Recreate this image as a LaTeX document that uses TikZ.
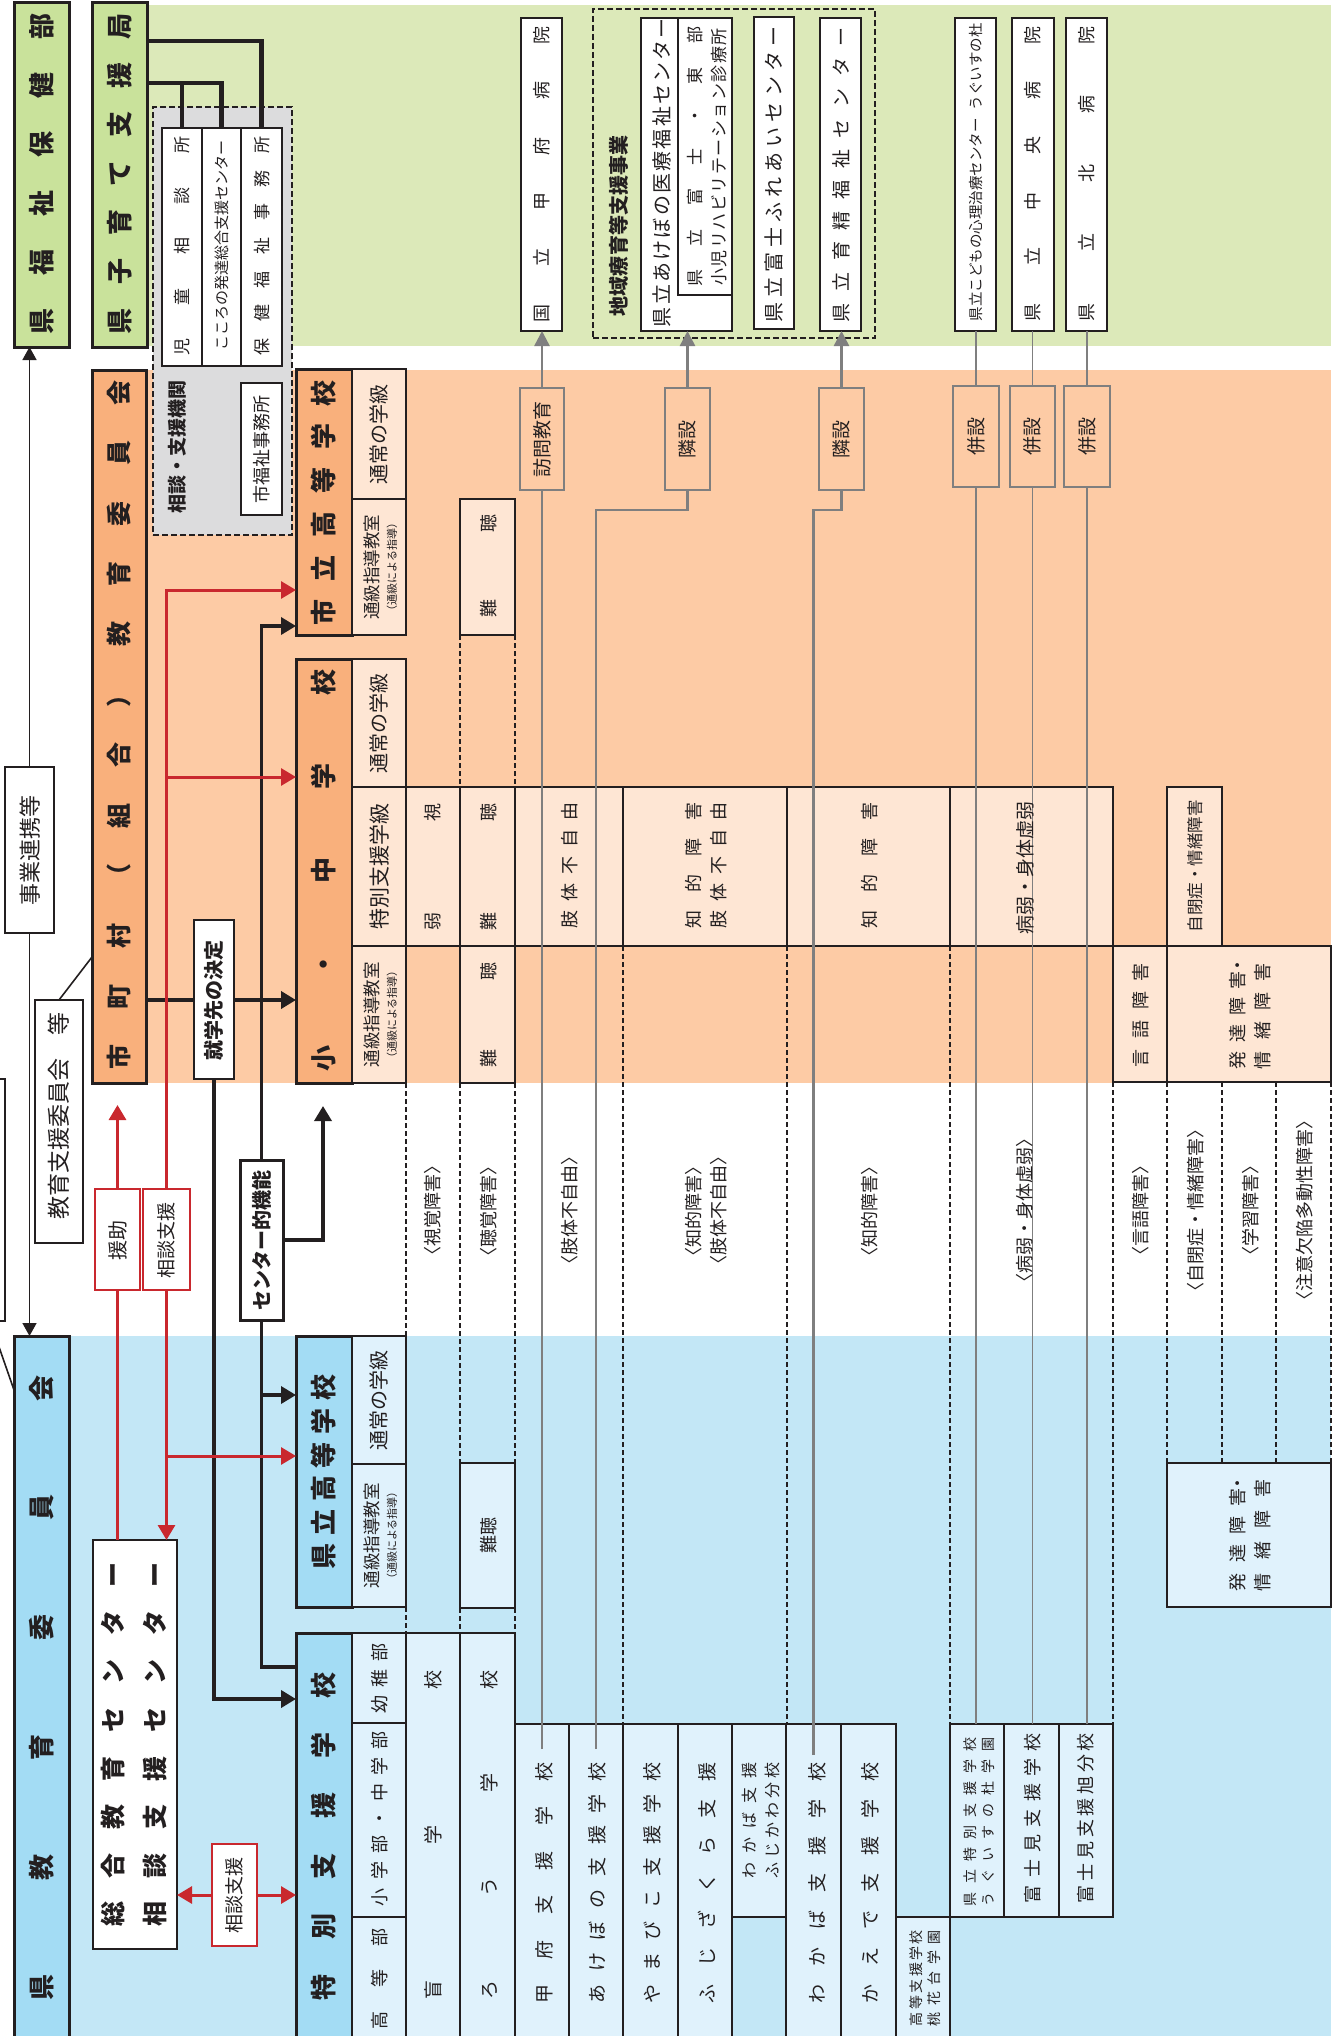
\documentclass[tikz,border=0pt]{standalone}
\usepackage{fontspec}
\setmainfont{Noto Sans CJK JP}
\usetikzlibrary{arrows.meta}
\definecolor{dk}{HTML}{231F20}
\definecolor{gbg}{HTML}{DCE9B9}
\definecolor{gbox}{HTML}{C9E29B}
\definecolor{obg}{HTML}{FDCBA5}
\definecolor{obox}{HTML}{F9B07C}
\definecolor{ocell}{HTML}{FEE6D4}
\definecolor{bbg}{HTML}{C3E7F6}
\definecolor{bbox}{HTML}{A3DCF4}
\definecolor{bcell}{HTML}{E0F2FC}
\definecolor{grp}{HTML}{DCDCDD}
\definecolor{rd}{HTML}{C9282E}
\definecolor{gl}{HTML}{7F7F7F}
\makeatletter
\def\spr@R{\relax}
\newcommand\spr[2]{\hbox to #1pt{\spr@a#2\relax}}
\def\spr@a#1{\def\spr@t{#1}\ifx\spr@t\spr@R\else#1\expandafter\spr@b\fi}
\def\spr@b#1{\def\spr@t{#1}\ifx\spr@t\spr@R\else\hfill#1\expandafter\spr@b\fi}
\makeatother
\newcommand\fs[1]{\fontsize{#1}{#1}\selectfont}
\newcommand\bx[6]{\node[#2,minimum width={(#5-#3)*1pt},minimum height={(#6-#4)*1pt},anchor=north west] (#1) at (#3,#4) {};}
\tikzset{
 bs/.style={inner sep=0pt, outer sep=0pt, rectangle},
 mainbox/.style={bs, draw=dk, line width=3pt},
 gbx/.style={mainbox, fill=gbox},
 obx/.style={mainbox, fill=obox},
 bbx/.style={mainbox, fill=bbox},
 ocl/.style={bs, draw=dk, line width=2pt, fill=ocell},
 bcl/.style={bs, draw=dk, line width=2pt, fill=bcell},
 wbx/.style={bs, draw=dk, line width=2pt, fill=white},
 wbx3/.style={bs, draw=dk, line width=3pt, fill=white},
 hbx/.style={bs, draw=dk, line width=2.5pt, fill=white},
 midbx/.style={bs, draw=gl, line width=2.5pt, fill=obg},
 rbx/.style={bs, draw=rd, line width=2pt, fill=white},
 grpbx/.style={bs, draw=dk, line width=2pt, dash pattern=on 6pt off 3pt, fill=grp},
 dshbx/.style={bs, draw=dk, line width=2.5pt, dash pattern=on 6pt off 3pt},
 tx/.style={rotate=90, inner sep=0pt, outer sep=0pt, text=dk, align=center},
 dsh/.style={draw=dk, line width=2pt, dash pattern=on 5pt off 3pt},
 blk/.style={draw=dk, line width=4.5pt},
 medln/.style={draw=dk, line width=3.5pt},
 arrowhd/.style={-{Triangle[length=15pt,width=17pt]}},
 thinarr/.style={-{Triangle[length=13pt,width=14pt]}},
 garr/.style={-{Triangle[length=15pt,width=15pt]}},
 rline/.style={draw=rd, line width=3pt},
 gline/.style={draw=gl, line width=2.5pt},
 gthin/.style={draw=gl, line width=1.3pt},
 thinln/.style={draw=dk, line width=1.6pt},
}
\begin{document}
\begin{tikzpicture}[x=1pt,y=-1pt]
\useasboundingbox (0,0) rectangle (1340,2036);
\clip (0,0) rectangle (1340,2036);
% backgrounds
\fill[gbg] (147,5) rectangle (1331,346);
\fill[obg] (147,370) rectangle (1331,1083);
\fill[bbg] (69,1336) rectangle (1331,2040);
% main boxes
\bx{fukushi}{gbx}{14}{3}{69}{347}
\bx{kosodate}{gbx}{92}{3}{147}{347}
\bx{shichoson}{obx}{92}{370}{146}{1083}
\bx{kenkyo}{bbx}{14}{1336}{69}{2045}
\bx{shiritsu}{obx}{296}{369}{352}{635}
\bx{shochu}{obx}{296}{659}{352}{1083}
\bx{kenko}{bbx}{296}{1336}{352}{1607}
\bx{tokubetsu}{bbx}{296}{1633}{352}{2045}
% consultation group
\bx{sodangrp}{grpbx}{153}{107}{292}{535}
\bx{jido}{wbx}{162}{128}{202}{366}
\bx{kokoro}{wbx}{202}{128}{241}{366}
\bx{hoken}{wbx}{241}{128}{282}{366}
\bx{shifuku}{wbx}{241}{383}{282}{515}
% hospitals
\bx{kofuhosp}{hbx}{521}{18}{562}{331}
\bx{chiikigrp}{dshbx}{593}{9}{875}{338}
\bx{akeb}{hbx}{641}{18}{732}{331}
\bx{akebin}{hbx}{678}{18}{732}{295}
\bx{fureai}{hbx}{754}{17}{794}{329}
\bx{ikusei}{hbx}{820}{18}{861}{331}
\bx{kodomo}{hbx}{955}{18}{996}{331}
\bx{chuo}{hbx}{1012}{18}{1054}{331}
\bx{kita}{hbx}{1066}{18}{1107}{331}
% intermediate boxes
\bx{homon}{midbx}{520}{388}{564}{490}
\bx{rin1}{midbx}{665}{388}{710}{490}
\bx{rin2}{midbx}{819}{388}{864}{490}
\bx{hei1}{midbx}{953}{386}{999}{487}
\bx{hei2}{midbx}{1010}{386}{1055}{487}
\bx{hei3}{midbx}{1064}{386}{1110}{487}
% orange cells
\bx{s1}{ocl}{352}{369}{406}{499}
\bx{s2}{ocl}{352}{499}{406}{635}
\bx{s3}{ocl}{460}{499}{515}{635}
\bx{c1}{ocl}{352}{659}{406}{787}
\bx{c2}{ocl}{352}{787}{406}{946}
\bx{c3}{ocl}{352}{946}{406}{1083}
\bx{jak}{ocl}{406}{787}{460}{946}
\bx{nan2}{ocl}{460}{787}{515}{946}
\bx{shi}{ocl}{515}{787}{623}{946}
\bx{chs}{ocl}{623}{787}{787}{946}
\bx{chi}{ocl}{787}{787}{950}{946}
\bx{byo}{ocl}{950}{787}{1113}{946}
\bx{jihei}{ocl}{1167}{787}{1222}{946}
\bx{nan3}{ocl}{460}{946}{515}{1083}
\bx{gengo}{ocl}{1113}{946}{1167}{1082}
\bx{hattatsu}{ocl}{1167}{946}{1331}{1082}
% blue cells
\bx{k1}{bcl}{352}{1336}{406}{1464}
\bx{k2}{bcl}{352}{1464}{406}{1607}
\bx{nan4}{bcl}{460}{1463}{515}{1608}
\bx{hat2}{bcl}{1167}{1463}{1331}{1607}
\bx{yochi}{bcl}{352}{1633}{406}{1723}
\bx{shochub}{bcl}{352}{1723}{406}{1917}
\bx{kotobu}{bcl}{352}{1917}{406}{2045}
\bx{mou}{bcl}{406}{1633}{460}{2045}
\bx{rou}{bcl}{460}{1633}{515}{2045}
\bx{kofusch}{bcl}{515}{1724}{569}{2045}
\bx{akebosch}{bcl}{569}{1724}{623}{2045}
\bx{yamasch}{bcl}{623}{1724}{678}{2045}
\bx{sakurasch}{bcl}{678}{1724}{732}{2045}
\bx{fujikawa}{bcl}{732}{1724}{786}{1917}
\bx{wakasch}{bcl}{786}{1724}{841}{2045}
\bx{kaedesch}{bcl}{841}{1724}{896}{2045}
\bx{momo}{bcl}{896}{1917}{950}{2045}
\bx{ugusch}{bcl}{950}{1724}{1004}{1917}
\bx{fujimisch}{bcl}{1004}{1724}{1059}{1917}
\bx{asahisch}{bcl}{1059}{1724}{1113}{1917}
% other boxes
\bx{renkei}{wbx}{5}{767}{54}{933}
\bx{shienkai}{wbx}{35}{1000}{83}{1243}
\node[wbx, minimum width=30pt, minimum height=242pt, anchor=north west] (offbox) at (-25,1079) {};
\bx{shugaku}{wbx}{194}{920}{234}{1079}
\bx{cfunc}{wbx3}{240}{1160}{283}{1320}
\bx{enjo}{rbx}{95}{1189}{140}{1290}
\bx{sodan}{rbx}{143}{1189}{190}{1290}
\bx{sogo}{hbx}{93}{1540}{177}{1949}
\bx{sodan2}{rbx}{212}{1844}{257}{1946}
% dashed grid lines
\draw[dsh] (460,635)--(460,787); \draw[dsh] (515,635)--(515,787);
\draw[dsh] (460,1083)--(460,1463); \draw[dsh] (515,1083)--(515,1463);
\draw[dsh] (406,1083)--(406,1336);
\draw[dsh] (406,1607)--(406,1633); \draw[dsh] (460,1608)--(460,1633); \draw[dsh] (515,1608)--(515,1633);
\draw[dsh] (623,946)--(623,1724); \draw[dsh] (787,946)--(787,1724);
\draw[dsh] (950,946)--(950,1724); \draw[dsh] (1113,1082)--(1113,1724);
\draw[dsh] (1167,1082)--(1167,1463); \draw[dsh] (1222,1082)--(1222,1463);
\draw[dsh] (1276,1082)--(1276,1463); \draw[dsh] (1331,1082)--(1331,1463);
% coordinates
\coordinate (yk1) at (0,83); \coordinate (yk2) at (0,41);
\coordinate (yd) at (0,957); \coordinate (yd2) at (0,1390);
\coordinate (ys) at (0,1000); \coordinate (y1699) at (0,1699);
\coordinate (y626) at (0,626); \coordinate (y1395) at (0,1395); \coordinate (y1667) at (0,1667);
\coordinate (c323) at (323,1106);
\coordinate (y1105) at (0,1105); \coordinate (y590) at (0,590); \coordinate (y777) at (0,777);
\coordinate (y1456) at (0,1456); \coordinate (y510) at (0,510);
% black connectors
\draw[blk] (kosodate.east |- yk2) -| (hoken.north);
\draw[blk] (kosodate.east |- yk1) -| (kokoro.north);
\draw[blk] (jido.north) -- (jido.north |- yk1);
\draw[thinln, thinarr] (renkei.north) -- (renkei.north |- fukushi.south);
\draw[thinln, thinarr] (renkei.south) -- (renkei.south |- kenkyo.north);
\draw[thinln] (shienkai.north) -- (shichoson.west |- yd);
\draw[thinln] (offbox.south) -- (kenkyo.west |- yd2);
\draw[blk] (shichoson.east |- ys) -- (shugaku.west |- ys);
\draw[blk, arrowhd] (shugaku.east |- ys) -- (shochu.west |- ys);
\draw[blk, arrowhd] (shugaku.south) |- (tokubetsu.west |- y1699);
\draw[medln, arrowhd] (cfunc.north) |- (shiritsu.west |- y626);
\draw[medln] (cfunc.south) |- (tokubetsu.west |- y1667);
\draw[medln, arrowhd] (cfunc.south |- y1395) -- (kenko.west |- y1395);
\draw[medln, arrowhd] (cfunc.east) -| (c323);
% red connectors
\draw[rline, arrowhd] (enjo.north) -- (enjo.north |- y1105);
\draw[rline] (enjo.south) -- (enjo.south |- sogo.north);
\draw[rline, arrowhd] (sodan.north) |- (shiritsu.west |- y590);
\draw[rline, arrowhd] (sodan.north |- y777) -- (shochu.west |- y777);
\draw[rline, arrowhd] (sodan.south) -- (sodan.south |- sogo.north);
\draw[rline, arrowhd] (sodan.south |- y1456) -- (kenko.west |- y1456);
\draw[rline, arrowhd] (sodan2.west) -- (sodan2.west -| sogo.east);
\draw[rline, arrowhd] (sodan2.east) -- (sodan2.east -| tokubetsu.west);
% gray connectors
\draw[gline] ([yshift=-25pt]kofusch.north) -- (homon.south);
\draw[gline, garr, gl] (homon.north) -- (homon.north |- kofuhosp.south);
\draw[gline] ([yshift=-25pt]akebosch.north) -- (akebosch.north |- y510) -| (rin1.south);
\draw[gline, garr, gl] (rin1.north) -- (rin1.north |- akeb.south);
\draw[gline] ([yshift=-31pt]wakasch.north) -- (wakasch.north |- y510) -| (rin2.south);
\draw[gline, garr, gl] (rin2.north) -- (rin2.north |- ikusei.south);
\draw[gthin] (hei1.south |- ugusch.north) -- (hei1.south);
\draw[gthin] (hei1.north) -- (hei1.north |- kodomo.south);
\draw[gthin] (hei2.south |- fujimisch.north) -- (hei2.south);
\draw[gthin] (hei2.north) -- (hei2.north |- chuo.south);
\draw[gthin] (hei3.south |- asahisch.north) -- (hei3.south);
\draw[gthin] (hei3.north) -- (hei3.north |- kita.south);
% ===== texts =====
\node[tx, font=\fs{26}\bfseries] (t1) at (41.5,173.5) {\spr{321}{県福祉保健部}};
\node[tx, font=\fs{26}\bfseries] (t2) at (119.5,173.5) {\spr{321}{県子育て支援局}};
\node[tx, font=\fs{25}\bfseries] (t3) at (119,725) {\spr{689}{市町村（組合）教育委員会}};
\node[tx, font=\fs{26}\bfseries] (t4) at (41.5,1687.5) {\spr{625}{県教育委員会}};
\node[tx, font=\fs{26}\bfseries] (t5) at (324,502.5) {\spr{245}{市立高等学校}};
\node[tx, font=\fs{26}\bfseries] (t6) at (324,870) {\spr{402}{小・中学校}};
\node[tx, font=\fs{26}\bfseries] (t7) at (324,1472) {\spr{195}{県立高等学校}};
\node[tx, font=\fs{26}\bfseries] (t8) at (324,1836) {\spr{328}{特別支援学校}};
\node[tx, font=\fs{25}\bfseries] (t9) at (113,1744.5) {\spr{364}{総合教育センター}};
\node[tx, font=\fs{25}\bfseries] (t10) at (155,1744.5) {\spr{364}{相談支援センター}};
% cells
\node[tx, font=\fs{20}] (t11) at (379,434) {通常の学級};
\node[tx, font=\fs{17.5}] (t12) at (372,567) {通級指導教室};
\node[tx, font=\fs{11}] (t13) at (392,567) {（通級による指導）};
\node[tx, font=\fs{18}] (t14) at (489,566) {\spr{103}{難聴}};
\node[tx, font=\fs{20}] (t15) at (379,723) {通常の学級};
\node[tx, font=\fs{21}] (t16) at (379,866) {特別支援学級};
\node[tx, font=\fs{17.5}] (t17) at (372,1014.5) {通級指導教室};
\node[tx, font=\fs{11}] (t18) at (392,1014.5) {（通級による指導）};
\node[tx, font=\fs{18}] (t19) at (433,866.5) {\spr{127}{弱視}};
\node[tx, font=\fs{18}] (t20) at (489,866.5) {\spr{127}{難聴}};
\node[tx, font=\fs{18}] (t21) at (570,865) {\spr{126}{肢体不自由}};
\node[tx, font=\fs{18}] (t22) at (694,865) {\spr{126}{知的障害}};
\node[tx, font=\fs{18}] (t23) at (719,865) {\spr{126}{肢体不自由}};
\node[tx, font=\fs{18}] (t24) at (870,865) {\spr{126}{知的障害}};
\node[tx, font=\fs{19}] (t25) at (1025,868) {病弱・身体虚弱};
\node[tx, font=\fs{16.5}] (t26) at (1195,866) {自閉症・情緒障害};
\node[tx, font=\fs{18}] (t27) at (489,1014.5) {\spr{105}{難聴}};
\node[tx, font=\fs{18}] (t28) at (1141,1015) {\spr{104}{言語障害}};
\node[tx, font=\fs{18}] (t29) at (1238,1013) {\spr{112}{発達障{害\kern-4pt・}}};
\node[tx, font=\fs{18}] (t30) at (1263,1016) {\spr{106}{情緒障害}};
\node[tx, font=\fs{20}] (t31) at (379,1400) {通常の学級};
\node[tx, font=\fs{17.5}] (t32) at (372,1535.5) {通級指導教室};
\node[tx, font=\fs{11}] (t33) at (392,1535.5) {（通級による指導）};
\node[tx, font=\fs{18}] (t34) at (489,1535) {難聴};
\node[tx, font=\fs{18}] (t35) at (1238,1532.5) {\spr{117}{発達障{害\kern-4pt・}}};
\node[tx, font=\fs{18}] (t36) at (1263,1535) {\spr{112}{情緒障害}};
\node[tx, font=\fs{18}] (t37) at (380,1678) {\spr{70}{幼稚部}};
\node[tx, font=\fs{18}] (t38) at (380,1818.5) {\spr{175}{小学部・中学部}};
\node[tx, font=\fs{18}] (t39) at (380,1978.5) {\spr{101}{高等部}};
\node[tx, font=\fs{19}] (t40) at (433,1835) {\spr{329}{盲学校}};
\node[tx, font=\fs{19}] (t41) at (489,1835) {\spr{329}{ろう学校}};
\node[tx, font=\fs{19}] (t42) at (544,1883) {\spr{241}{甲府支援学校}};
\node[tx, font=\fs{19}] (t43) at (597,1883) {\spr{241}{あけぼの支援学校}};
\node[tx, font=\fs{19}] (t44) at (652,1883) {\spr{241}{やまびこ支援学校}};
\node[tx, font=\fs{19}] (t45) at (707,1883) {\spr{241}{ふじざくら支援}};
\node[tx, font=\fs{16}] (t46) at (749,1820) {\spr{116}{わかば支援}};
\node[tx, font=\fs{16}] (t47) at (772,1820) {\spr{116}{ふじかわ分校}};
\node[tx, font=\fs{19}] (t48) at (817,1883) {\spr{241}{わかば支援学校}};
\node[tx, font=\fs{19}] (t49) at (870,1883) {\spr{241}{かえで支援学校}};
\node[tx, font=\fs{14}] (t50) at (916,1978) {\spr{96}{高等支援学校}};
\node[tx, font=\fs{14}] (t51) at (934,1978) {\spr{96}{桃花台学園}};
\node[tx, font=\fs{14}] (t52) at (970,1821.5) {\spr{169}{県立特別支援学校}};
\node[tx, font=\fs{14}] (t53) at (988,1821.5) {\spr{169}{うぐいすの杜学園}};
\node[tx, font=\fs{18}] (t54) at (1033,1818) {\spr{170}{富士見支援学校}};
\node[tx, font=\fs{18}] (t55) at (1086,1818) {\spr{170}{富士見支援旭分校}};
% hospitals
\node[tx, font=\fs{18}] (t56) at (542,174) {\spr{296}{国立甲府病院}};
\node[tx, font=\fs{20}] (t57) at (662,172.5) {\spr{309}{県立あけぼの医療福祉センター}};
\node[tx, font=\fs{17}] (t58) at (695,156.5) {\spr{260}{県立富士・東部}};
\node[tx, font=\fs{17}] (t59) at (719,157) {\spr{257}{小児リハビリテーション診療所}};
\node[tx, font=\fs{20}] (t60) at (774,174.5) {\spr{295}{県立富士ふれあいセンター}};
\node[tx, font=\fs{19}] (t61) at (841,174.5) {\spr{295}{県立育精福祉センター}};
\node[tx, font=\fs{14.5}] (t62) at (975.5,172) {県立こどもの心理治療センター\hspace{8pt}うぐいすの杜};
\node[tx, font=\fs{18}] (t63) at (1033,173.5) {\spr{295}{県立中央病院}};
\node[tx, font=\fs{18}] (t64) at (1086.5,173.5) {\spr{295}{県立北病院}};
% group texts
\node[tx, font=\fs{17}] (t65) at (182,246) {\spr{219}{児童相談所}};
\node[tx, font=\fs{15}] (t66) at (221.5,245) {こころの発達総合支援センター};
\node[tx, font=\fs{17}] (t67) at (262,246) {\spr{219}{保健福祉事務所}};
\node[tx, font=\fs{19}\bfseries] (t68) at (177,447) {相談・支援機関};
\node[tx, font=\fs{18}] (t69) at (261.5,449) {市福祉事務所};
\node[tx, font=\fs{20}\bfseries] (t70) at (619,226) {地域療育等支援事業};
% intermediate
\node[tx, font=\fs{19}] (t71) at (542,439) {訪問教育};
\node[tx, font=\fs{19}] (t72) at (687.5,439) {隣設};
\node[tx, font=\fs{19}] (t73) at (841.5,439) {隣設};
\node[tx, font=\fs{19}] (t74) at (976,436.5) {併設};
\node[tx, font=\fs{19}] (t75) at (1032.5,436.5) {併設};
\node[tx, font=\fs{19}] (t76) at (1087,436.5) {併設};
% others
\node[tx, font=\fs{22}] (t77) at (30,850) {事業連携等};
\node[tx, font=\fs{23}] (t78) at (59,1116) {教育支援委員会　等};
\node[tx, font=\fs{20}\bfseries] (t79) at (214,1000) {就学先の決定};
\node[tx, font=\fs{20}\bfseries] (t80) at (261.5,1240) {センター的機能};
\node[tx, font=\fs{20}] (t81) at (117.5,1240) {援助};
\node[tx, font=\fs{19}] (t82) at (166.5,1240) {相談支援};
\node[tx, font=\fs{19}] (t83) at (234.5,1895) {相談支援};
% bracket labels
\node[tx, font=\fs{18}] (t84) at (433,1210) {〈視覚障害〉};
\node[tx, font=\fs{18}] (t85) at (489,1211) {〈聴覚障害〉};
\node[tx, font=\fs{18}] (t86) at (570,1210) {〈肢体不自由〉};
\node[tx, font=\fs{18}] (t87) at (694,1211) {〈知的障害〉};
\node[tx, font=\fs{18}] (t88) at (719,1210) {〈肢体不自由〉};
\node[tx, font=\fs{18}] (t89) at (870,1211) {〈知的障害〉};
\node[tx, font=\fs{18}] (t90) at (1025,1210) {〈病弱・身体虚弱〉};
\node[tx, font=\fs{18}] (t91) at (1141,1210) {〈言語障害〉};
\node[tx, font=\fs{18}] (t92) at (1196,1210) {〈自閉症・情緒障害〉};
\node[tx, font=\fs{18}] (t93) at (1251,1210) {〈学習障害〉};
\node[tx, font=\fs{18}] (t94) at (1305,1210) {〈注意欠陥多動性障害〉};
\end{tikzpicture}
\end{document}
